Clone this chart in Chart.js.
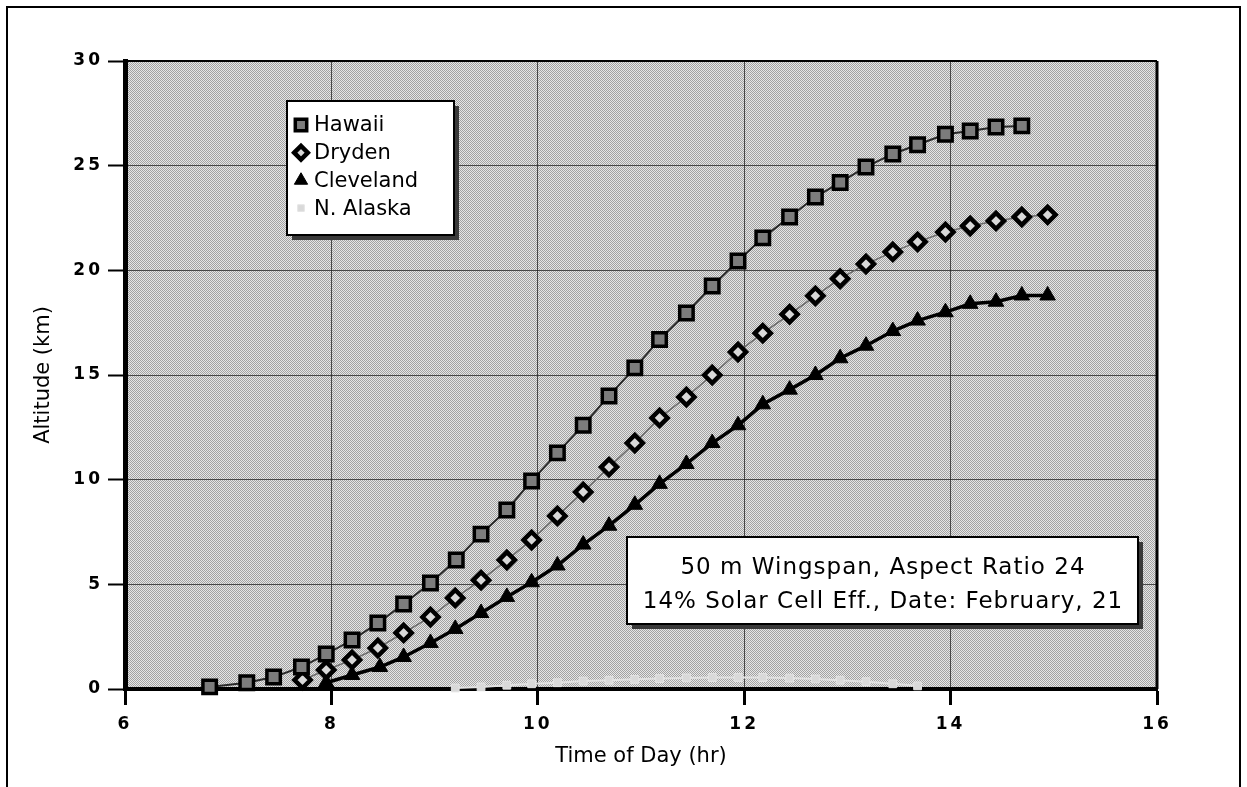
<!DOCTYPE html>
<html>
<head>
<meta charset="utf-8">
<script src="https://cdn.jsdelivr.net/npm/chart.js@4.4.0/dist/chart.umd.min.js"></script>
<style>
  html, body { margin: 0; padding: 0; background: #fff; overflow: hidden; }
  #wrap { position: relative; width: 1247px; height: 787px; }
</style>
</head>
<body>
<div id="wrap"><canvas id="chart"></canvas></div>
<script>
// Values
const hawaiiTime = [6.82, 7.18, 7.44, 7.71, 7.95, 8.20, 8.45, 8.70, 8.96, 9.21, 9.45, 9.70, 9.94, 10.19, 10.44, 10.69,
  10.94, 11.18, 11.44, 11.69, 11.94, 12.18, 12.44, 12.69, 12.93, 13.18, 13.44, 13.68, 13.95, 14.19, 14.44, 14.69];
const hawaiiAlt = [0.1, 0.3, 0.57, 1.05, 1.67, 2.34, 3.15, 4.06, 5.06, 6.16, 7.4, 8.55, 9.94, 11.28, 12.6, 14.0,
  15.34, 16.7, 17.96, 19.25, 20.45, 21.55, 22.55, 23.5, 24.2, 24.94, 25.56, 26.0, 26.5, 26.66, 26.85, 26.9];

const drydenTime = [7.72, 7.95, 8.20, 8.45, 8.70, 8.96, 9.20, 9.45, 9.70, 9.94, 10.19, 10.44, 10.69, 10.94, 11.18,
  11.44, 11.69, 11.94, 12.18, 12.44, 12.69, 12.93, 13.18, 13.44, 13.68, 13.95, 14.19, 14.44, 14.69, 14.94];
const drydenAlt = [0.43, 0.91, 1.39, 1.96, 2.68, 3.44, 4.35, 5.2, 6.16, 7.12, 8.27, 9.41, 10.6, 11.75, 12.95,
  13.95, 15.0, 16.1, 17.0, 17.9, 18.78, 19.6, 20.3, 20.88, 21.36, 21.83, 22.12, 22.36, 22.55, 22.65];

const clevelandTime = [7.95, 8.20, 8.47, 8.70, 8.96, 9.20, 9.45, 9.70, 9.94, 10.19, 10.44, 10.69, 10.94, 11.18, 11.44,
  11.69, 11.94, 12.18, 12.44, 12.69, 12.93, 13.18, 13.44, 13.68, 13.95, 14.19, 14.44, 14.69, 14.94];
const clevelandAlt = [0.3, 0.67, 1.05, 1.53, 2.2, 2.87, 3.63, 4.4, 5.1, 5.9, 6.9, 7.8, 8.8, 9.8, 10.75,
  11.75, 12.6, 13.6, 14.3, 15.0, 15.8, 16.4, 17.1, 17.6, 18.0, 18.4, 18.5, 18.8, 18.8];

const alaskaTime = [9.20, 9.45, 9.70, 9.94, 10.19, 10.44, 10.69, 10.94, 11.18, 11.44, 11.69, 11.94, 12.18, 12.44,
  12.69, 12.93, 13.18, 13.44, 13.68];
const alaskaAlt = [0.05, 0.1, 0.18, 0.25, 0.3, 0.38, 0.42, 0.46, 0.5, 0.53, 0.55, 0.55, 0.55, 0.52,
  0.48, 0.42, 0.35, 0.25, 0.15];

const xTicks = [6, 8, 10, 12, 14, 16];
const yTicks = [0, 5, 10, 15, 20, 25, 30];
const noteLines = ["50 m Wingspan, Aspect Ratio 24", "14% Solar Cell Eff., Date: February, 21"];

const toPoints = (xs, ys) => xs.map((x, i) => ({ x: x, y: ys[i] }));

// Halftone-ish background for the plot area
function makePattern(ctx) {
  const c = document.createElement("canvas");
  c.width = 2;
  c.height = 2;
  const p = c.getContext("2d");
  p.fillStyle = "#e6e6e6";
  p.fillRect(0, 0, 2, 2);
  p.fillStyle = "#a2a2a2";
  p.fillRect(0, 0, 1, 1);
  p.fillRect(1, 1, 1, 1);
  return ctx.createPattern(c, "repeat");
}

function shadowBox(ctx, x, y, w, h) {
  ctx.fillStyle = "#3a3a3a";
  ctx.fillRect(x + 5, y + 5, w, h);
  ctx.fillStyle = "#fff";
  ctx.fillRect(x, y, w, h);
  ctx.lineWidth = 2;
  ctx.strokeStyle = "#000";
  ctx.strokeRect(x, y, w, h);
}

const decorPlugin = {
  id: "decor",
  beforeDraw(chart) {
    const { ctx, chartArea } = chart;
    ctx.save();
    ctx.fillStyle = makePattern(ctx);
    ctx.fillRect(chartArea.left, chartArea.top, chartArea.right - chartArea.left, chartArea.bottom - chartArea.top);
    ctx.restore();
  },
  afterDatasetsDraw(chart) {
    // wider tracking for the tick numbers (ticks are drawn on z = 1)
    chart.ctx.letterSpacing = "3px";
  },
  afterDraw(chart) {
    const { ctx, chartArea } = chart;
    ctx.letterSpacing = "0px";
    ctx.save();

    // top and right edges of the plot frame
    ctx.strokeStyle = "#000";
    ctx.lineWidth = 2;
    ctx.beginPath();
    ctx.moveTo(chartArea.left, chartArea.top);
    ctx.lineTo(chartArea.right, chartArea.top);
    ctx.stroke();
    ctx.lineWidth = 3;
    ctx.beginPath();
    ctx.moveTo(chartArea.right, chartArea.top);
    ctx.lineTo(chartArea.right, chartArea.bottom);
    ctx.stroke();

    // outer frame
    ctx.lineWidth = 2;
    ctx.beginPath();
    ctx.moveTo(7, 787);
    ctx.lineTo(7, 7);
    ctx.lineTo(1240, 7);
    ctx.lineTo(1240, 787);
    ctx.stroke();

    // legend
    shadowBox(ctx, 287, 101, 167, 134);
    ctx.font = "21px 'DejaVu Sans'";
    ctx.textBaseline = "middle";
    ctx.textAlign = "left";
    chart.data.datasets.forEach((ds, i) => {
      const y = 125 + i * 27.7;
      ctx.fillStyle = ds.pointBackgroundColor;
      ctx.strokeStyle = ds.pointBorderColor;
      ctx.lineWidth = ds.pointBorderWidth;
      Chart.helpers.drawPoint(ctx, {
        pointStyle: ds.pointStyle,
        radius: ds.pointRadius * 0.85,
        borderWidth: ds.pointBorderWidth,
      }, 301, y);
      ctx.fillStyle = "#000";
      ctx.fillText(ds.label, 314, y + 1);
    });

    // note box
    shadowBox(ctx, 627, 537, 511, 87);
    ctx.fillStyle = "#000";
    ctx.textAlign = "center";
    ctx.font = "23px 'DejaVu Sans'";
    ctx.letterSpacing = "1px";
    ctx.fillText(noteLines[0], 883, 568);
    ctx.fillText(noteLines[1], 883, 602);
    ctx.letterSpacing = "0px";
    ctx.restore();
  },
};

const ctx = document.getElementById("chart").getContext("2d");
new Chart(ctx, {
  type: "line",
  data: {
    datasets: [
      {
        label: "Hawaii",
        data: toPoints(hawaiiTime, hawaiiAlt),
        borderColor: "#2a2a2a",
        borderWidth: 2,
        pointStyle: "rect",
        pointRadius: 9.5,
        pointBackgroundColor: "#7c7c7c",
        pointBorderColor: "#000",
        pointBorderWidth: 3.5,
      },
      {
        label: "Dryden",
        data: toPoints(drydenTime, drydenAlt),
        borderColor: "#6a6a6a",
        borderWidth: 1.5,
        pointStyle: "rectRot",
        pointRadius: 8,
        pointBackgroundColor: "#d8d8d8",
        pointBorderColor: "#000",
        pointBorderWidth: 4.5,
      },
      {
        label: "Cleveland",
        data: toPoints(clevelandTime, clevelandAlt),
        borderColor: "#000",
        borderWidth: 3.5,
        pointStyle: "triangle",
        pointRadius: 9,
        pointBackgroundColor: "#000",
        pointBorderColor: "#000",
        pointBorderWidth: 1,
      },
      {
        label: "N. Alaska",
        data: toPoints(alaskaTime, alaskaAlt),
        borderColor: "#e2e2e2",
        borderWidth: 2,
        pointStyle: "rect",
        pointRadius: 5.5,
        pointBackgroundColor: "#d9d9d9",
        pointBorderColor: "#e4e4e4",
        pointBorderWidth: 1,
      },
    ],
  },
  options: {
    responsive: true,
    maintainAspectRatio: false,
    animation: false,
    events: [],
    layout: { padding: { left: 0, top: 61, right: 90, bottom: 0 } },
    elements: { line: { tension: 0 } },
    datasets: { line: { clip: false } },
    plugins: {
      legend: { display: false },
      tooltip: { enabled: false },
    },
    scales: {
      x: {
        type: "linear",
        min: xTicks[0],
        max: xTicks[xTicks.length - 1],
        afterFit: (scale) => { scale.height = 98; },
        afterBuildTicks: (scale) => { scale.ticks = xTicks.map((v) => ({ value: v })); },
        grid: {
          color: "rgba(30, 30, 30, 0.75)",
          lineWidth: 1,
          tickColor: "#000",
          tickWidth: 3,
          tickLength: 16,
        },
        border: { color: "#000", width: 4 },
        ticks: {
          z: 1,
          color: "#000",
          padding: 9,
          font: { family: "'DejaVu Sans'", size: 17, weight: "bold" },
        },
        title: {
          display: true,
          text: "Time of Day (hr)",
          color: "#000",
          font: { family: "'DejaVu Sans'", size: 21 },
          padding: { bottom: 18 },
        },
      },
      y: {
        min: yTicks[0],
        max: yTicks[yTicks.length - 1],
        afterFit: (scale) => { scale.width = 125; },
        afterBuildTicks: (scale) => { scale.ticks = yTicks.map((v) => ({ value: v })); },
        grid: {
          color: "rgba(30, 30, 30, 0.75)",
          lineWidth: 1,
          tickColor: "#000",
          tickWidth: 2,
          tickLength: 17,
        },
        border: { color: "#000", width: 5 },
        ticks: {
          z: 1,
          color: "#000",
          padding: 5,
          font: { family: "'DejaVu Sans'", size: 17, weight: "bold" },
        },
        title: {
          display: true,
          text: "Altitude (km)",
          color: "#000",
          font: { family: "'DejaVu Sans'", size: 21 },
          padding: { top: 31 },
        },
      },
    },
  },
  plugins: [decorPlugin],
});
</script>
</body>
</html>
